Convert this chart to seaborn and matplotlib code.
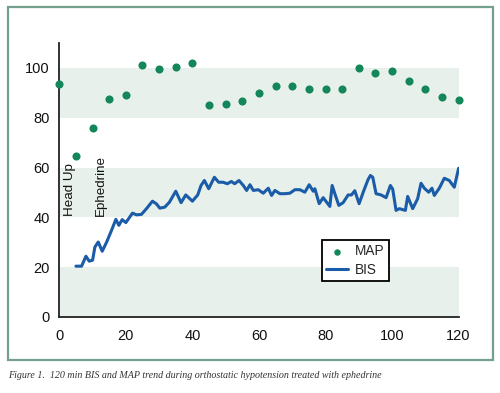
import matplotlib
matplotlib.use("Agg")
import matplotlib.pyplot as plt
import seaborn as sns
import pandas as pd
from matplotlib.patches import Rectangle

# ---- data ----
map_time = [0, 5, 10, 15, 20, 25, 30, 35, 40, 45, 50, 55, 60, 65, 70, 75, 80, 85,
            90, 95, 100, 105, 110, 115, 120]
map_values = [93.6, 64.8, 76, 87.5, 89, 101.2, 99.5, 100.2, 101.8, 85.3, 85.7, 86.8,
              90, 92.8, 92.8, 91.5, 91.5, 91.7, 99.8, 97.8, 98.6, 94.8, 91.6, 88.4, 87]

bis_time = [5, 6.7, 8, 9, 10, 10.7, 11.7, 12.9, 14.2, 15.7, 17, 17.9, 18.9, 20, 22,
            23.2, 24.7, 26.2, 28, 29.2, 30.2, 31.7, 33.1, 35, 36.6, 38, 40, 41.6,
            42.6, 43.6, 44.9, 46.6, 47.9, 49.2, 50.5, 51.7, 52.7, 54, 55.3, 56.3,
            57.3, 58.3, 59.8, 61.3, 62.8, 63.8, 64.8, 66.3, 67.8, 69.3, 70.8, 72.3,
            73.8, 75.1, 76.3, 76.8, 78.1, 79.3, 81.3, 82, 82.8, 84, 85.3, 86.8, 87.8,
            88.8, 90.1, 91.5, 92.8, 93.5, 94.2, 95.2, 96.7, 98.2, 99.5, 100.2, 101.2,
            102.2, 103.2, 104, 104.7, 106.2, 107.7, 108.7, 109.7, 111, 112, 112.7,
            114.2, 115.7, 117.2, 118.7, 120]
bis_values = [20.4, 20.4, 24.4, 22.4, 22.8, 28.1, 30.1, 26.4, 30, 34.8, 39.2, 36.8,
              39.1, 37.9, 41.7, 41, 41.2, 43.5, 46.5, 45.4, 43.7, 44.1, 46.1, 50.5,
              45.9, 49, 46.5, 49, 52.8, 54.8, 51.5, 56.1, 54.1, 54.1, 53.5, 54.4,
              53.5, 54.8, 52.8, 50.8, 53.1, 50.8, 51.1, 49.7, 51.7, 48.8, 50.8, 49.5,
              49.5, 49.7, 51.1, 51.1, 50.1, 53.1, 50.5, 51.5, 45.5, 47.9, 44.4, 52.8,
              49.5, 44.8, 45.9, 49, 49, 50.7, 45.5, 50.7, 55.2, 56.8, 56.1, 49.5, 49,
              47.9, 52.8, 51.3, 42.8, 43.5, 43.1, 42.8, 48.4, 43.5, 47.5, 53.7, 51.7,
              50.1, 51.7, 48.8, 51.7, 55.7, 54.8, 52.1, 59.7]

x_ticks = [0, 20, 40, 60, 80, 100, 120]
y_ticks = [0, 20, 40, 60, 80, 100]
bands = [(0, 20), (40, 60), (80, 100)]

map_df = pd.DataFrame({"time": map_time, "value": map_values})
bis_df = pd.DataFrame({"time": bis_time, "value": bis_values})

green = "#13875a"
blue = "#1b5ca8"
band_color = "#e8f0eb"
frame_color = "#74a08e"

sns.set_style("white")
plt.rcParams["font.family"] = ["Liberation Sans", "DejaVu Sans"]

fig = plt.figure(figsize=(5.0, 3.93), dpi=100)
fig.patch.set_facecolor("white")
ax = fig.add_axes([0.1186, 0.1934, 0.7986, 0.6972])
ax.set_facecolor("white")

for lo, hi in bands:
    ax.axhspan(lo, hi, color=band_color, zorder=0, lw=0)

sns.lineplot(data=bis_df, x="time", y="value", ax=ax, color=blue, linewidth=2.2,
             label="BIS", zorder=3, estimator=None, sort=False)
sns.scatterplot(data=map_df, x="time", y="value", ax=ax, color=green, s=34,
                edgecolor=green, linewidth=0, label="MAP", zorder=4, clip_on=False)

ax.set_xlim(0, 120)
ax.set_ylim(0, 110)
ax.set_xticks(x_ticks)
ax.set_yticks(y_ticks)
ax.set_xlabel("")
ax.set_ylabel("")
for side in ["top", "right"]:
    ax.spines[side].set_visible(False)
for side in ["left", "bottom"]:
    ax.spines[side].set_color("#222222")
    ax.spines[side].set_linewidth(1.3)
ax.tick_params(axis="both", which="major", direction="out", length=4, width=1.3,
               color="#222222", labelsize=10.5, labelcolor="#111111", pad=3)
ax.tick_params(axis="x", pad=5)

ax.text(3.3, 40.5, "Head Up", rotation=90, ha="center", va="bottom", fontsize=9.6,
        color="#111111", zorder=5)
ax.text(12.4, 40.5, "Ephedrine", rotation=90, ha="center", va="bottom", fontsize=9.6,
        color="#111111", zorder=5)

handles, labels = ax.get_legend_handles_labels()
order = [labels.index("MAP"), labels.index("BIS")]
leg = ax.legend([handles[i] for i in order], [labels[i] for i in order],
                loc="upper left", bbox_to_anchor=(0.657, 0.282), frameon=True,
                fancybox=False, edgecolor="black", fontsize=9.8, handlelength=1.6,
                borderpad=0.35, labelspacing=0.3, handletextpad=0.5,
                borderaxespad=0, markerscale=0.8)
leg.get_frame().set_linewidth(1.3)
leg.get_frame().set_facecolor("white")
leg.get_frame().set_alpha(1)

frame = Rectangle((0.016, 0.084), 0.970, 0.898, transform=fig.transFigure,
                  fill=False, edgecolor=frame_color, linewidth=1.6)
fig.patches.append(frame)

fig.text(0.016, 0.045,
         "Figure 1.  120 min BIS and MAP trend during orthostatic hypotension treated with ephedrine",
         fontsize=7.2, style="italic", family=["Liberation Serif", "DejaVu Serif"],
         color="#333333", ha="left", va="center")

fig.savefig("out.png", dpi=100)
